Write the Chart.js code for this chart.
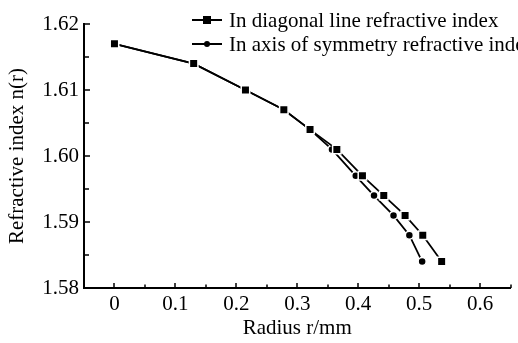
<!DOCTYPE html>
<html><head><meta charset="utf-8">
<script src="https://cdn.jsdelivr.net/npm/chart.js@4"></script>
<style>
html,body{margin:0;padding:0;background:#fff;overflow:hidden;width:518px;height:343px;}
#wrap{position:relative;width:518px;height:343px;overflow:hidden;}
#c{position:absolute;left:0;top:0;}
.leg{position:absolute;left:0;width:700px;height:24px;font-family:"Liberation Serif","Times New Roman",serif;font-size:21px;line-height:24px;white-space:nowrap;color:#000;}
.leg .txt{position:absolute;left:229px;top:0;}
.leg .ln{position:absolute;left:192px;width:30px;height:2px;top:11px;background:#000;}
.leg .sq{position:absolute;left:203px;top:8px;width:8px;height:8px;background:#000;}
.leg .ci{position:absolute;left:204px;top:9px;width:6px;height:6px;border-radius:50%;background:#000;}
</style></head>
<body>
<div id="wrap">
<canvas id="c" width="518" height="343"></canvas>
<div class="leg" style="top:8px"><div class="ln"></div><div class="sq"></div><span class="txt" id="l1"></span></div>
<div class="leg" style="top:32px"><div class="ln"></div><div class="ci"></div><span class="txt" id="l2"></span></div>
</div>
<script>
// ---- data ----
const seriesNames = ["In diagonal line refractive index", "In axis of symmetry refractive index"];
const diagR = [0, 0.13, 0.215, 0.278, 0.321, 0.365, 0.407, 0.442, 0.477, 0.506, 0.537];
const diagN = [1.617, 1.614, 1.610, 1.607, 1.604, 1.601, 1.597, 1.594, 1.591, 1.588, 1.584];
const axisR = [0, 0.13, 0.215, 0.278, 0.321, 0.357, 0.396, 0.426, 0.458, 0.484, 0.505];
const axisN = [1.617, 1.614, 1.610, 1.607, 1.604, 1.601, 1.597, 1.594, 1.591, 1.588, 1.584];
const xTicks = [0, 0.1, 0.2, 0.3, 0.4, 0.5, 0.6];
const yTicks = [1.58, 1.59, 1.60, 1.61, 1.62];
const xRange = [-0.05, 0.65];
const yRange = [1.58, 1.62];
const xTitle = "Radius r/mm";
const yTitle = "Refractive index n(r)";

document.getElementById('l1').textContent = seriesNames[0];
document.getElementById('l2').textContent = seriesNames[1];

const FONT = '"Liberation Serif", "Times New Roman", serif';
function pts(xs, ys){ return xs.map((v,i)=>({x:v, y:ys[i]})); }
function withMinor(arr, lo, hi){
  const step = arr[1]-arr[0];
  const out = [];
  for (let i=0;i<arr.length;i++){
    out.push({v:arr[i], major:true});
    const m = arr[i]+step/2;
    if (m <= hi + 1e-9) out.push({v:m, major:false});
  }
  const f = arr[0]-step/2;
  if (f >= lo - 1e-9) out.push({v:f, major:false});
  return out;
}

const inwardTicks = {
  id:'inwardTicks',
  afterDatasetsDraw(chart){
    const {ctx, chartArea:ca, scales:{x, y}} = chart;
    ctx.save();
    ctx.strokeStyle = '#000';
    ctx.lineWidth = 1.5;
    ctx.beginPath();
    withMinor(xTicks, xRange[0], xRange[1]).forEach(t=>{
      const px = Math.round(x.getPixelForValue(t.v));
      ctx.moveTo(px, ca.bottom);
      ctx.lineTo(px, ca.bottom - (t.major ? 5 : 3.5));
    });
    withMinor(yTicks, yRange[0], yRange[1]).forEach(t=>{
      const py = Math.round(y.getPixelForValue(t.v));
      ctx.moveTo(ca.left, py);
      ctx.lineTo(ca.left + (t.major ? 6 : 5), py);
    });
    ctx.stroke();
    ctx.restore();
  }
};

new Chart(document.getElementById('c'), {
  type: 'scatter',
  data: {
    datasets: [
      {
        label: seriesNames[0],
        data: pts(diagR, diagN),
        showLine: true,
        borderColor: '#000',
        borderWidth: 1.8,
        tension: 0,
        pointStyle: 'rect',
        pointRadius: 6,
        pointBackgroundColor: '#000',
        pointBorderColor: '#fff',
        pointBorderWidth: 1.5
      },
      {
        label: seriesNames[1],
        data: pts(axisR, axisN),
        showLine: true,
        borderColor: '#000',
        borderWidth: 1.8,
        tension: 0,
        pointStyle: 'circle',
        pointRadius: 4,
        pointBackgroundColor: '#000',
        pointBorderColor: '#fff',
        pointBorderWidth: 1.5
      }
    ]
  },
  options: {
    responsive: false,
    animation: false,
    devicePixelRatio: 1,
    layout: { padding: { top: 24, right: 0, left: 0, bottom: 0 } },
    plugins: { legend: { display: false }, tooltip: { enabled: false } },
    scales: {
      x: {
        type: 'linear',
        min: xRange[0], max: xRange[1],
        afterBuildTicks: s => { s.ticks = xTicks.map(v=>({value:v})); },
        afterFit: s => { s.height = 55; },
        grid: { display: false, drawTicks: false },
        border: { display: true, color: '#000', width: 2 },
        ticks: {
          color: '#000', padding: 4, maxRotation: 0, autoSkip: false,
          font: { family: FONT, size: 21 },
          callback: v => (Math.abs(v) < 1e-9 ? '0' : v.toFixed(1))
        },
        title: { display: true, text: xTitle, color: '#000', font: { family: FONT, size: 21 }, padding: { top: 0, bottom: 2 } }
      },
      y: {
        type: 'linear',
        min: yRange[0], max: yRange[1],
        afterBuildTicks: s => { s.ticks = yTicks.map(v=>({value:v})); },
        afterFit: s => { s.width = 84; },
        grid: { display: false, drawTicks: false },
        border: { display: true, color: '#000', width: 2 },
        ticks: {
          color: '#000', padding: 5, autoSkip: false,
          font: { family: FONT, size: 21 },
          callback: v => v.toFixed(2)
        },
        title: { display: true, text: yTitle, color: '#000', font: { family: FONT, size: 21 }, padding: { top: 5, bottom: 0 } }
      }
    }
  },
  plugins: [inwardTicks]
});
</script>
</body></html>
